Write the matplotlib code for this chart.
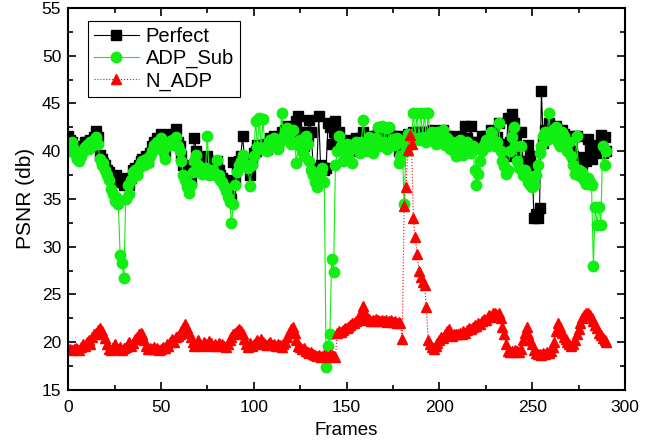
import numpy as np
import matplotlib.pyplot as plt
from matplotlib.ticker import MultipleLocator

plt.rcParams['font.family'] = ['Liberation Sans', 'DejaVu Sans']

# PSNR per frame
frames = np.arange(0, 291)

perfect = [
    41.6, 41.2, 41.0, 40.5, 40.2, 39.8, 39.5, 40.0, 40.5, 41.0,
    41.0, 40.8, 41.2, 40.8, 41.5, 42.1, 41.5, 39.6, 39.2, 38.8,
    38.5, 38.0, 37.8, 37.2, 37.0, 37.2, 37.5, 37.0, 36.8, 37.2,
    36.5, 36.8, 37.0, 36.5, 37.2, 38.0, 38.2, 37.8, 38.5, 39.0,
    39.2, 38.8, 39.5, 39.0, 39.8, 40.5, 41.0, 40.6, 41.4, 41.0,
    41.8, 40.5, 39.8, 40.8, 41.4, 41.2, 41.8, 41.0, 42.3, 41.0,
    40.5, 39.5, 38.5, 37.8, 37.0, 36.6, 37.0, 38.0, 41.4, 40.0,
    39.2, 38.6, 38.2, 38.0, 38.5, 39.5, 38.0, 38.2, 38.5, 38.0,
    39.0, 38.0, 37.5, 37.2, 37.0, 36.5, 36.0, 35.5, 35.0, 38.9,
    37.0, 38.2, 39.0, 39.5, 41.6, 39.2, 38.8, 38.6, 37.5, 39.0,
    39.8, 40.0, 40.6, 40.4, 40.6, 40.5, 40.8, 40.2, 41.0, 41.4,
    41.2, 41.6, 41.0, 40.6, 41.4, 42.0, 41.8, 42.2, 42.6, 42.0,
    41.5, 42.5, 41.5, 43.2, 43.7, 42.0, 41.2, 40.5, 42.0, 41.5,
    43.3, 42.0, 38.2, 38.0, 38.2, 43.7, 38.5, 38.2, 38.0, 38.2,
    43.0, 42.5, 40.8, 42.0, 43.2, 41.5, 42.0, 41.2, 40.5, 41.0,
    41.2, 40.5, 40.8, 40.0, 41.0, 41.4, 40.8, 40.5, 41.4, 42.0,
    41.2, 40.8, 41.6, 41.0, 40.5, 40.8, 41.6, 42.0, 41.0, 42.0,
    41.4, 42.0, 40.8, 42.0, 41.4, 41.6, 41.0, 41.6, 40.0, 40.5,
    41.2, 41.5, 41.0, 41.8, 41.2, 41.6, 42.0, 41.6, 42.0, 41.5,
    42.0, 41.6, 42.0, 41.4, 42.0, 41.8, 42.2, 41.6, 41.2, 42.0,
    41.8, 41.4, 42.2, 41.0, 41.6, 41.0, 41.6, 41.2, 40.5, 40.0,
    41.0, 41.6, 40.8, 40.2, 42.6, 41.4, 40.8, 42.6, 41.0, 40.5,
    40.6, 41.0, 40.5, 41.6, 41.2, 41.6, 41.0, 41.4, 42.2, 41.6,
    41.0, 41.5, 43.0, 40.8, 40.2, 39.8, 39.5, 43.5, 41.0, 43.9,
    43.0, 41.0, 39.8, 39.0, 42.0, 38.8, 39.0, 38.5, 40.6, 39.5,
    38.5, 33.0, 33.4, 33.0, 34.0, 46.3, 40.9, 42.2, 41.6, 43.0,
    42.0, 42.4, 41.8, 42.6, 41.4, 41.0, 42.2, 41.8, 41.0, 40.6,
    41.2, 40.0, 39.5, 41.6, 41.6, 39.0, 38.5, 38.5, 39.4, 39.0,
    41.3, 40.5, 39.2, 40.6, 40.2, 40.0, 40.4, 41.7, 39.8, 41.5,
    40.0,
]

adp_sub = [
    40.5, 40.0, 41.0, 40.2, 39.6, 39.2, 39.0, 39.5, 40.0, 40.4,
    40.6, 40.2, 41.0, 40.5, 41.2, 41.5, 40.8, 39.2, 38.5, 38.8,
    38.0, 37.5, 37.0, 36.0, 35.5, 34.8, 35.2, 34.5, 29.1, 28.3,
    26.7, 35.0, 36.5, 35.5, 37.0, 37.8, 38.0, 37.5, 38.3, 38.8,
    39.0, 38.5, 39.2, 38.8, 39.5, 40.0, 40.6, 40.2, 41.0, 40.5,
    41.4, 40.0, 39.2, 40.5, 41.0, 40.8, 41.2, 40.6, 41.5, 40.5,
    40.0, 39.0, 37.5, 37.0, 36.2, 35.6, 36.5, 37.8, 39.0, 39.6,
    38.5, 38.0, 37.6, 37.8, 38.2, 41.6, 37.5, 37.8, 38.0, 37.5,
    39.1, 37.5, 37.0, 36.8, 36.4, 35.8, 35.2, 34.7, 32.5, 34.5,
    36.5, 37.8, 38.6, 39.0, 39.6, 38.8, 38.5, 38.2, 36.3, 38.6,
    39.5, 43.2, 40.4, 43.5, 40.2, 43.4, 40.4, 40.0, 40.8, 41.2,
    41.0, 41.4, 40.6, 40.2, 41.0, 44.0, 41.5, 42.0, 42.4, 41.6,
    40.8, 42.2, 41.0, 38.8, 40.6, 41.2, 40.0, 39.5, 41.6, 40.8,
    39.0, 38.0, 37.5, 36.8, 36.2, 37.0, 37.8, 38.2, 36.8, 17.4,
    19.6, 20.8, 28.7, 27.3, 38.5, 40.0, 41.6, 40.5, 39.0, 40.0,
    40.8, 39.5, 40.2, 38.8, 40.5, 41.0, 40.2, 39.8, 41.0, 43.3,
    40.8, 40.0, 41.5, 40.5, 39.8, 40.2, 41.4, 42.5, 40.5, 42.6,
    41.0, 42.4, 40.2, 42.5, 41.0, 41.3, 40.6, 41.4, 38.8, 39.5,
    41.0, 34.5, 40.0, 41.8, 40.6, 41.4, 44.0, 41.4, 44.0, 41.2,
    44.0, 41.5, 44.0, 41.0, 44.0, 41.6, 42.0, 41.2, 40.8, 42.0,
    41.5, 41.0, 42.2, 40.6, 41.4, 40.8, 40.2, 41.0, 40.0, 39.5,
    40.5, 41.2, 40.0, 39.6, 40.8, 41.0, 40.2, 39.8, 40.5, 38.0,
    36.5, 37.6, 39.0, 40.0, 40.6, 41.2, 40.5, 41.0, 42.0, 41.2,
    40.5, 41.0, 43.0, 40.0, 39.0, 38.4, 37.6, 38.0, 40.0, 41.5,
    42.5, 40.5, 39.0, 38.2, 40.5, 37.5, 38.0, 37.2, 36.8, 36.5,
    36.2, 36.5, 37.5, 38.5, 39.8, 40.5, 41.6, 42.0, 41.2, 44.0,
    41.8, 42.2, 41.5, 42.5, 41.0, 40.5, 42.0, 41.6, 40.6, 40.0,
    41.0, 39.5, 38.5, 37.6, 41.6, 38.0, 37.4, 37.8, 37.0, 36.6,
    37.2, 36.8, 36.5, 28.0, 34.2, 32.3, 34.2, 32.3, 40.5, 38.5,
    40.0,
]

n_adp = [
    19.3, 19.3, 19.2, 19.3, 19.4, 19.3, 19.2, 19.5, 19.8, 19.6,
    20.0, 20.2, 19.8, 20.5, 20.8, 21.0, 21.3, 21.5, 21.2, 20.8,
    20.4, 19.8, 19.3, 19.2, 19.5, 19.8, 19.4, 19.3, 19.5, 19.2,
    19.4, 19.5, 19.8, 20.0, 19.6, 19.9, 20.3, 20.5, 20.8, 21.0,
    20.8, 20.2, 19.6, 19.3, 19.4, 19.3, 19.5, 19.3, 19.4, 19.2,
    19.3, 19.5, 19.4, 19.8, 19.6, 20.0, 20.3, 20.0, 20.5, 20.6,
    20.8, 21.2, 21.5, 21.9, 21.5, 21.0, 20.5, 20.0, 19.6, 19.8,
    20.2, 19.8, 19.6, 20.0, 19.8, 19.7, 20.1, 19.9, 19.6, 19.8,
    19.6, 19.9, 19.7, 19.8, 19.6, 19.5, 19.8, 20.2, 20.5, 20.8,
    21.0, 21.2, 21.4, 21.2, 20.8, 20.3, 19.8, 19.5, 19.9, 19.6,
    19.8, 20.0, 20.2, 19.8, 20.3, 20.0, 19.8, 19.7, 19.9, 20.0,
    19.7, 19.8, 19.6, 19.8, 19.7, 19.5, 19.8, 20.0, 20.5, 21.0,
    21.4, 21.6, 21.0, 20.2, 19.6, 19.5, 19.3, 19.4, 19.1, 19.0,
    18.9, 19.0, 18.8, 18.7, 18.5, 18.6, 18.4, 18.5, 18.7, 18.5,
    18.4, 18.6, 18.7, 18.5, 18.4, 21.0, 21.2, 21.1, 21.3, 21.5,
    21.5, 21.6, 21.8, 22.0, 22.0, 22.2, 22.3, 22.6, 23.2, 23.8,
    23.0, 22.3, 22.4, 22.2, 22.3, 22.2, 22.4, 22.3, 22.2, 22.3,
    22.2, 22.3, 22.1, 22.2, 22.3, 22.1, 22.2, 22.0, 22.1, 22.0,
    20.3, 34.3, 36.2, 40.1, 41.7, 40.8, 33.0, 31.0, 29.2, 27.5,
    26.8, 26.3, 26.0, 23.7, 20.2, 19.8, 19.5, 19.3, 19.6, 19.9,
    20.2, 20.5, 20.4, 20.8, 21.2, 21.4, 21.0, 20.6, 20.8, 20.9,
    20.8, 21.0, 20.9, 21.2, 21.0, 21.3, 21.5, 21.4, 21.6, 21.8,
    21.7, 22.0, 21.9, 22.2, 22.4, 22.3, 22.6, 22.8, 22.6, 23.0,
    23.1, 22.8, 23.0, 22.5, 21.6, 20.8, 19.8, 19.1, 19.0, 19.1,
    19.0, 19.2, 19.1, 19.0, 19.3, 20.2, 21.0, 21.6, 20.8, 20.2,
    19.8, 19.2, 18.9, 18.8, 18.8, 18.7, 18.9, 18.8, 19.0, 18.9,
    19.1, 19.5, 20.0, 21.2, 22.0, 21.6, 21.0, 20.5, 20.3, 20.0,
    19.8, 19.6, 19.8, 20.2, 20.8, 21.4, 22.0, 22.5, 22.8, 23.0,
    23.1, 22.8, 22.5, 22.2, 21.8, 21.5, 21.0, 20.7, 20.4, 20.2,
    20.0,
]

fig = plt.figure(figsize=(6.62, 4.42), dpi=100)
ax = fig.add_axes([0.103, 0.118, 0.841, 0.864])

ax.plot(frames, perfect, color='black', linewidth=0.8, marker='s',
        markersize=6.5, label='Perfect')
ax.plot(frames, adp_sub, color='#11ee11', linewidth=0.8, marker='o',
        markersize=7.5, label='ADP_Sub')
ax.plot(frames, n_adp, color='red', linewidth=0.8, linestyle=':',
        marker='^', markersize=7.5, label='N_ADP')

ax.set_xlim(0, 300)
ax.set_ylim(15, 55)
ax.xaxis.set_major_locator(MultipleLocator(50))
ax.xaxis.set_minor_locator(MultipleLocator(25))
ax.yaxis.set_major_locator(MultipleLocator(5))
ax.yaxis.set_minor_locator(MultipleLocator(2.5))
ax.tick_params(which='both', direction='in', top=True, right=True,
               labelsize=12.5, width=1.2)
ax.tick_params(which='major', length=6, pad=5)
ax.tick_params(axis='x', which='major', pad=7)
ax.tick_params(which='minor', length=3.5)
for s in ax.spines.values():
    s.set_linewidth(1.5)

ax.set_xlabel('Frames', fontsize=13.5, labelpad=5)
ax.set_ylabel('PSNR (db)', fontsize=15, labelpad=5)

leg = ax.legend(loc='upper left', bbox_to_anchor=(0.036, 0.966),
                borderaxespad=0, fontsize=14.5, fancybox=False,
                edgecolor='black', framealpha=1, handlelength=2.2,
                handletextpad=0.35, labelspacing=0.15, borderpad=0.3)
leg.get_frame().set_linewidth(0.8)

fig.savefig('out.png', dpi=100)
